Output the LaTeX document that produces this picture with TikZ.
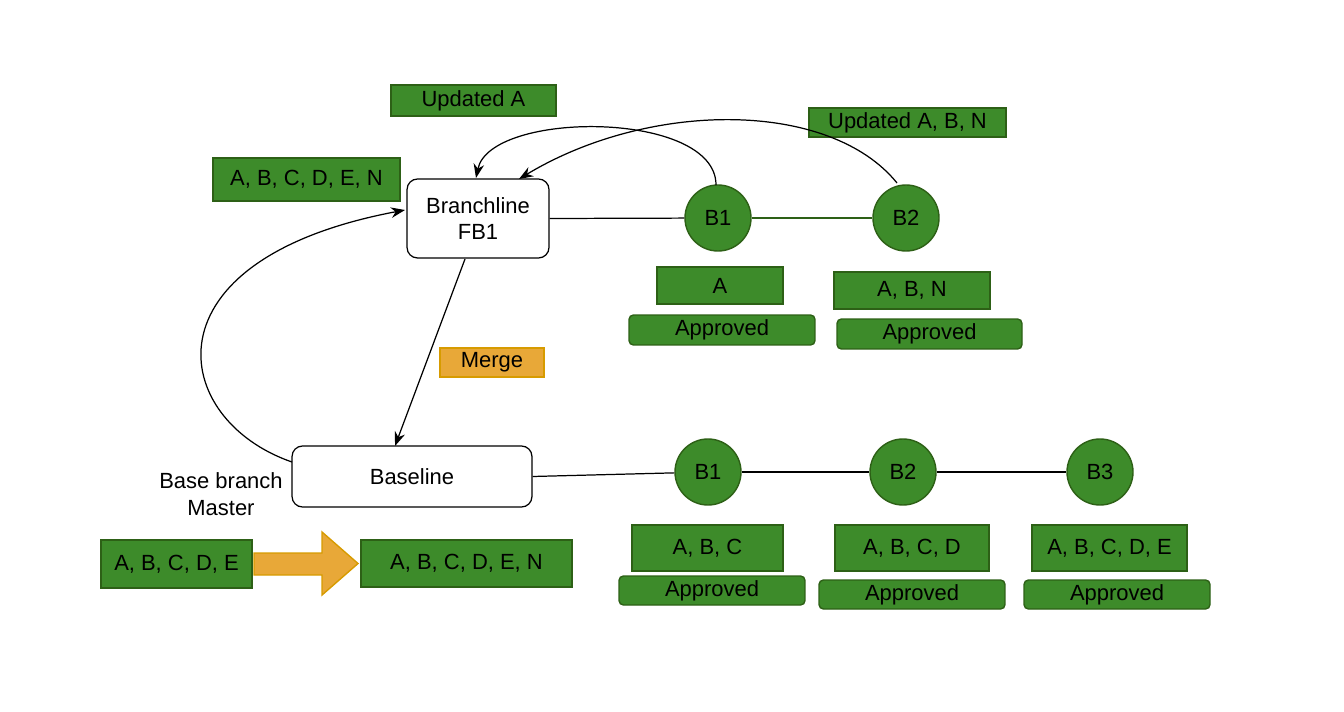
\documentclass[tikz,border=0pt]{standalone}
\usepackage{fontspec}
\setmainfont{Liberation Sans}
\usetikzlibrary{arrows.meta}
\definecolor{gfill}{HTML}{3D8B2A}
\definecolor{gline}{HTML}{2D6016}
\definecolor{ofill}{HTML}{E8A838}
\definecolor{oline}{HTML}{D79B00}
\begin{document}
\begin{tikzpicture}[x=0.02cm,y=-0.02cm,font=\fontsize{12.5}{15}\selectfont,
 gb/.style={draw=gline,fill=gfill,line width=0.8pt,inner sep=0pt},
 ga/.style={gb,rounded corners=2.5pt},
 wb/.style={draw=black,fill=white,rounded corners=6pt,line width=0.7pt,inner sep=0pt},
 circ/.style={circle,draw=gline,fill=gfill,minimum size=66*0.02cm,inner sep=0pt,line width=0.8pt},
 ln/.style={line width=0.7pt},
 ar/.style={ln,-{Stealth[length=8pt,width=6pt]}}]
\useasboundingbox (0,0) rectangle (1344,712);
% boxes
\node[gb,minimum width=3.3cm,minimum height=0.62cm] (ua) at (473.5,100.5) {Updated A};
\node[gb,minimum width=3.94cm,minimum height=0.58cm] (uabn) at (907.5,122.5) {Updated A, B, N};
\node[gb,minimum width=3.74cm,minimum height=0.86cm] (top) at (306.5,179.5) {A, B, C, D, E, N};
\node[wb,minimum width=2.84cm,minimum height=1.58cm,align=center] (fb1) at (478,218.5) {Branchline\\FB1};
\node[circ] (b1t) at (718,218) {B1};
\node[circ] (b2t) at (906,218) {B2};
\node[gb,minimum width=2.52cm,minimum height=0.74cm] (a) at (720,285.5) {A};
\node[ga,minimum width=3.72cm,minimum height=0.6cm] (ap1) at (722,330) {Approved};
\node[gb,minimum width=3.12cm,minimum height=0.74cm] (abn) at (912,290.5) {A, B, N};
\node[ga,minimum width=3.7cm,minimum height=0.6cm] (ap2) at (929.5,334) {Approved};
\node[draw=oline,fill=ofill,line width=0.8pt,minimum width=2.08cm,minimum height=0.58cm,inner sep=0pt] (merge) at (492,362.5) {Merge};
\node[wb,minimum width=4.8cm,minimum height=1.22cm] (base) at (412,476.5) {Baseline};
\node[align=center] (bbm) at (221,494) {Base branch\\Master};
\node[circ] (c1) at (708,472) {B1};
\node[circ] (c2) at (903,472) {B2};
\node[circ] (c3) at (1100,472) {B3};
\node[gb,minimum width=3.02cm,minimum height=0.92cm] (abc) at (707.5,548) {A, B, C};
\node[ga,minimum width=3.72cm,minimum height=0.58cm] (ap3) at (712,590.5) {Approved};
\node[gb,minimum width=3.08cm,minimum height=0.92cm] (abcd) at (912,548) {A, B, C, D};
\node[ga,minimum width=3.72cm,minimum height=0.58cm] (ap4) at (912,594.5) {Approved};
\node[gb,minimum width=3.1cm,minimum height=0.92cm] (abcde) at (1109.5,548) {A, B, C, D, E};
\node[ga,minimum width=3.72cm,minimum height=0.58cm] (ap5) at (1117,594.5) {Approved};
\node[gb,minimum width=3.02cm,minimum height=0.96cm] (l) at (176.5,564) {A, B, C, D, E};
\node[gb,minimum width=4.22cm,minimum height=0.94cm] (r) at (466.5,563.5) {A, B, C, D, E, N};
\draw[draw=oline,fill=ofill,line width=0.8pt,line join=miter] (254,553) -- (322,553) -- (322,532) -- (358,563.5) -- (322,595) -- (322,575) -- (254,575) -- cycle;
% connectors
\draw[ln] (fb1.east) -- (b1t);
\draw[ln,draw=gline] (b1t) -- (b2t);
\draw[ln] (base.east) -- (c1);
\draw[ln] (c1) -- (c2);
\draw[ln] (c2) -- (c3);
\coordinate (fs) at (465,259);
\coordinate (fe) at (395,446);
\draw[ar] (fs) -- (fe);
\coordinate (bs) at (292,462);
\coordinate (be) at (405,210);
\draw[ar] (bs) .. controls (170,420) and (140,260) .. (be);
\coordinate (t1) at (716,185);
\coordinate (t1e) at (476,178);
\draw[ar] (t1) .. controls (716,110) and (490,110) .. (t1e);
\coordinate (t2) at (897,183);
\coordinate (t2e) at (519,179);
\draw[ar] (t2) .. controls (830,100) and (650,100) .. (t2e);
\end{tikzpicture}
\end{document}
